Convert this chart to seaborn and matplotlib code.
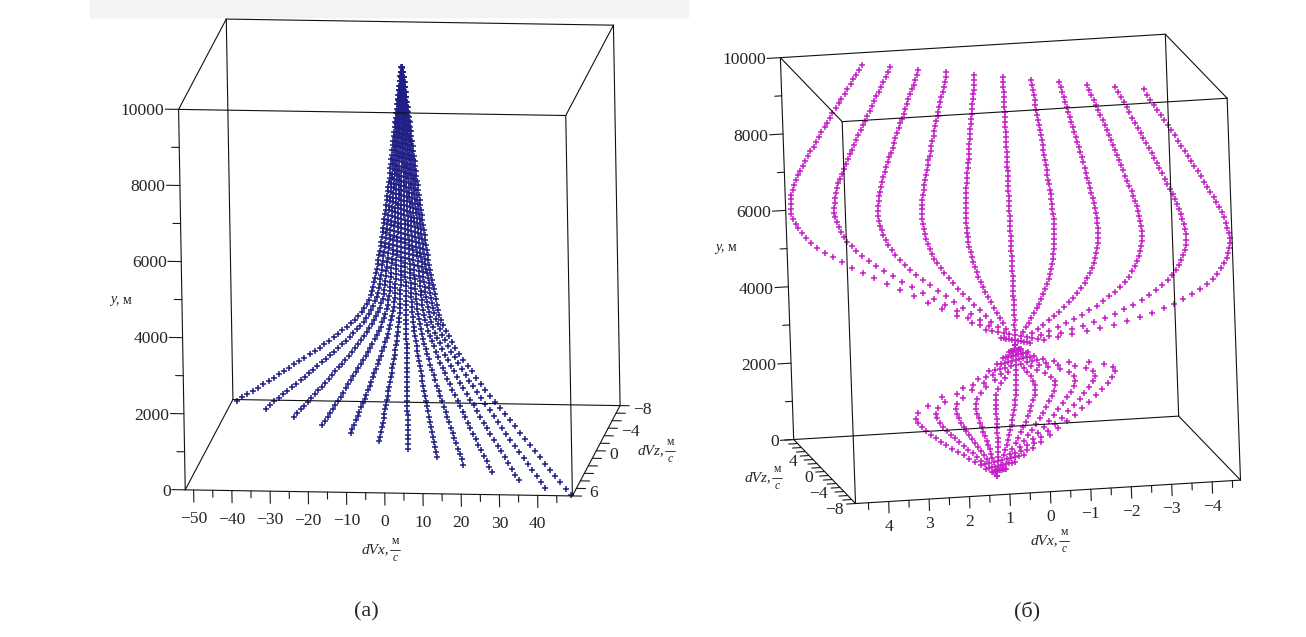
import numpy as np
import matplotlib
matplotlib.use("Agg")
import matplotlib.pyplot as plt
from matplotlib.lines import Line2D
from matplotlib.patches import Rectangle
from mpl_toolkits.mplot3d import proj3d
import seaborn as sns

sns.set_theme(style="white")
plt.rcParams["font.family"] = ["Liberation Serif", "DejaVu Serif"]

W, H = 1306, 637

# altitude levels, m (same for both panels)
alt = [0, 125, 250, 375, 500, 625, 750, 875, 1000,
       1125, 1250, 1375, 1500, 1625, 1750, 1875, 2000, 2125,
       2250, 2375, 2500, 2625, 2750, 2875, 3000, 3125, 3250,
       3375, 3500, 3625, 3750, 3875, 4000, 4125, 4250, 4375,
       4500, 4625, 4750, 4875, 5000, 5125, 5250, 5375, 5500,
       5625, 5750, 5875, 6000, 6125, 6250, 6375, 6500, 6625,
       6750, 6875, 7000, 7125, 7250, 7375, 7500, 7625, 7750,
       7875, 8000, 8125, 8250, 8375, 8500, 8625, 8750, 8875,
       9000, 9125, 9250, 9375, 9500, 9625, 9750, 9875, 10000]

# panel (a): ground values of each curve and the share left at each altitude
a_end_dvx = [-51.0, -42.5, -34.0, -25.5, -17.0, -8.5, 0.0, 8.5, 16.5, 25.0, 33.0, 41.0, 48.5]
a_end_dvz = [-7.8, -6.5, -5.1, -3.8, -2.4, -1.1, 0.2, 1.5, 2.8, 4.1, 5.4, 6.7, 7.8]
a_decay = [1.000, 0.969, 0.938, 0.906, 0.875, 0.844, 0.813, 0.781, 0.750,
           0.720, 0.690, 0.660, 0.630, 0.600, 0.570, 0.540, 0.510, 0.483,
           0.456, 0.428, 0.400, 0.375, 0.350, 0.325, 0.301, 0.280, 0.261,
           0.244, 0.229, 0.216, 0.205, 0.196, 0.189, 0.183, 0.178, 0.173,
           0.168, 0.163, 0.158, 0.153, 0.148, 0.143, 0.139, 0.134, 0.130,
           0.126, 0.122, 0.118, 0.114, 0.110, 0.106, 0.102, 0.098, 0.095,
           0.091, 0.088, 0.084, 0.081, 0.078, 0.074, 0.071, 0.068, 0.064,
           0.061, 0.058, 0.055, 0.051, 0.048, 0.045, 0.042, 0.038, 0.035,
           0.032, 0.029, 0.025, 0.022, 0.018, 0.015, 0.011, 0.007, 0.003]

# panel (b): centre curve and spread per unit of the curve parameter
b_p = [-5, -4, -3, -2, -1, 0, 1, 2, 3, 4, 5]
b_cx = [0.88, 0.83, 0.78, 0.73, 0.68, 0.64, 0.59, 0.55, 0.51,
        0.48, 0.44, 0.41, 0.38, 0.36, 0.33, 0.31, 0.29, 0.28,
        0.27, 0.26, 0.25, 0.24, 0.23, 0.23, 0.22, 0.22, 0.21,
        0.21, 0.20, 0.20, 0.20, 0.19, 0.19, 0.19, 0.18, 0.18,
        0.18, 0.17, 0.17, 0.17, 0.16, 0.16, 0.16, 0.15, 0.15,
        0.15, 0.15, 0.14, 0.14, 0.14, 0.14, 0.13, 0.13, 0.13,
        0.13, 0.12, 0.12, 0.12, 0.12, 0.11, 0.11, 0.11, 0.11,
        0.10, 0.10, 0.10, 0.10, 0.09, 0.09, 0.09, 0.09, 0.08,
        0.08, 0.08, 0.08, 0.08, 0.07, 0.07, 0.07, 0.07, 0.07]
b_cz = [-3.44, -3.39, -3.35, -3.30, -3.26, -3.21, -3.17, -3.12, -3.08,
        -3.03, -2.99, -2.94, -2.90, -2.85, -2.81, -2.76, -2.72, -2.67,
        -2.63, -2.58, -2.54, -2.49, -2.44, -2.40, -2.35, -2.31, -2.26,
        -2.22, -2.17, -2.13, -2.08, -2.04, -1.99, -1.95, -1.90, -1.86,
        -1.81, -1.77, -1.72, -1.68, -1.63, -1.58, -1.54, -1.49, -1.45,
        -1.40, -1.36, -1.31, -1.27, -1.22, -1.18, -1.13, -1.09, -1.04,
        -1.00, -0.95, -0.91, -0.86, -0.82, -0.77, -0.73, -0.68, -0.63,
        -0.59, -0.54, -0.50, -0.45, -0.41, -0.36, -0.32, -0.27, -0.23,
        -0.18, -0.14, -0.09, -0.05, 0.00, 0.04, 0.09, 0.13, 0.18]
b_gx = [0.000, 0.041, 0.082, 0.123, 0.165, 0.206, 0.247, 0.288, 0.329,
        0.370, 0.406, 0.441, 0.476, 0.506, 0.535, 0.559, 0.570, 0.559,
        0.506, 0.423, 0.306, 0.218, 0.153, 0.106, 0.071, 0.035, 0.000,
        -0.056, -0.112, -0.170, -0.228, -0.287, -0.345, -0.403, -0.461, -0.517,
        -0.571, -0.622, -0.670, -0.715, -0.757, -0.795, -0.828, -0.856, -0.880,
        -0.899, -0.916, -0.928, -0.938, -0.946, -0.949, -0.950, -0.948, -0.944,
        -0.938, -0.932, -0.923, -0.912, -0.901, -0.890, -0.877, -0.864, -0.851,
        -0.837, -0.824, -0.811, -0.798, -0.784, -0.771, -0.758, -0.745, -0.729,
        -0.716, -0.703, -0.687, -0.674, -0.658, -0.645, -0.630, -0.616, -0.603]
b_gz = [0.000, -0.060, -0.120, -0.180, -0.241, -0.301, -0.361, -0.421, -0.481,
        -0.541, -0.593, -0.644, -0.696, -0.739, -0.782, -0.816, -0.833, -0.816,
        -0.739, -0.618, -0.447, -0.318, -0.223, -0.155, -0.103, -0.052, 0.000,
        -0.161, -0.322, -0.460, -0.598, -0.735, -0.848, -0.961, -1.048, -1.135,
        -1.208, -1.266, -1.310, -1.352, -1.379, -1.396, -1.411, -1.422, -1.430,
        -1.435, -1.439, -1.439, -1.438, -1.436, -1.430, -1.423, -1.415, -1.405,
        -1.393, -1.382, -1.368, -1.354, -1.339, -1.325, -1.308, -1.292, -1.276,
        -1.260, -1.244, -1.228, -1.212, -1.196, -1.179, -1.163, -1.147, -1.129,
        -1.113, -1.097, -1.080, -1.063, -1.046, -1.030, -1.012, -0.996, -0.980]

BLUE = "#1f1f85"
PINK = "#c61ec6"
MK = dict(ls="none", marker="+", ms=5.0, mew=1.1)
TICK_FS = 12.6


def lab(v):
    s = f"{abs(v):g}"
    return "\u2212" + s if v < 0 else s


def to_px(ax, pts):
    pts = np.asarray(pts, float)
    x, y, _ = proj3d.proj_transform(pts[:, 0], pts[:, 1], pts[:, 2], ax.get_proj())
    return ax.transData.transform(np.column_stack([x, y]))


def fit_box(ax, corners, target, aspect):
    # scale and move the 3d axes so the box corners land where they are in the picture
    tgt = np.array(target, float)
    tgt[:, 1] = H - tgt[:, 1]
    fig.canvas.draw()
    p = to_px(ax, corners)
    k = np.sqrt(((tgt - tgt.mean(0)) ** 2).sum() / ((p - p.mean(0)) ** 2).sum())
    ax.set_box_aspect(aspect, zoom=k)
    fig.canvas.draw()
    p = to_px(ax, corners)
    d = tgt.mean(0) - p.mean(0)
    pos = ax.get_position()
    ax.set_position([pos.x0 + d[0] / W, pos.y0 + d[1] / H, pos.width, pos.height])
    fig.canvas.draw()


def put_labels(ax, items):
    # tick labels are written as flat figure text at the projected tick ends
    pts = to_px(ax, [it[0] for it in items])
    for (pt, s, ha, dx, dy), (x, y) in zip(items, pts):
        fig.text((x + dx) / W, (y + dy) / H, s, ha=ha, va="center_baseline", fontsize=TICK_FS)


def draw_box(ax, xl, yl, zl):
    kw = dict(color="#111111", lw=0.8)
    for x in xl:
        for y in yl:
            ax.plot([x, x], [y, y], zl, **kw)
        for z in zl:
            ax.plot([x, x], yl, [z, z], **kw)
    for y in yl:
        for z in zl:
            ax.plot(xl, [y, y], [z, z], **kw)


def frac_label(px, py, name, fs=11):
    fig.text(px / W, 1 - py / H, name + ",", ha="right", va="center", fontsize=fs, style="italic")
    fig.text((px + 6) / W, 1 - (py - 9) / H, "м", ha="center", va="center", fontsize=fs - 2.5)
    fig.add_artist(Line2D([(px + 1) / W, (px + 11) / W], [1 - py / H] * 2, lw=0.6, color="k"))
    fig.text((px + 6) / W, 1 - (py + 8) / H, "c", ha="center", va="center", fontsize=fs - 2.5, style="italic")


def y_label(px, py):
    fig.text(px / W, 1 - py / H, "y", ha="right", va="center", fontsize=10, style="italic")
    fig.text(px / W, 1 - py / H, ", м", ha="left", va="center", fontsize=10)


fig = plt.figure(figsize=(W / 100, H / 100), dpi=100)
fig.add_artist(Rectangle((90 / W, 1 - 17 / H), 598 / W, 17 / H, transform=fig.transFigure,
                         color="#f3f3f3", zorder=0))

# ---------------- panel (a) ----------------
XA, YA, ZA = (-52.2, 49.1), (-8.0, 8.0), (0, 10000)
asp_a = (391.1, 368.1, 393.1)
ax1 = fig.add_axes([0.0, 0.0, 0.5, 1.0], projection="3d", proj_type="ortho")
ax1.set_facecolor("none")
ax1.set_axis_off()
ax1.set_xlim(*XA)
ax1.set_ylim(*YA)
ax1.set_zlim(*ZA)
ax1.set_box_aspect(asp_a)
ax1.view_init(elev=-14.22, azim=-97.7, roll=1.0)

a_x = np.outer(a_end_dvx, a_decay)
a_z = np.outer(a_end_dvz, a_decay)
for k in range(len(a_end_dvx)):
    ax1.plot(a_x[k], a_z[k], alt, color=BLUE, **MK)

draw_box(ax1, XA, YA, ZA)
labels_a = []
for v in range(0, 10001, 1000):
    L = 3.5 if v % 2000 == 0 else 2.0
    ax1.plot([XA[0], XA[0] - L], [YA[1]] * 2, [v, v], color="k", lw=0.8)
    if v % 2000 == 0:
        labels_a.append(((XA[0] - L, YA[1], v), str(v), "right", -1, 0))
for v in range(-50, 46, 5):
    L = 320 if v % 10 == 0 else 185
    ax1.plot([v, v], [YA[1]] * 2, [0, -L], color="k", lw=0.8)
    if v % 10 == 0:
        labels_a.append(((v, YA[1], 0), lab(v), "center", 0, -27))
for i in range(13):
    v = -8 + 4 / 3 * i
    ax1.plot([XA[1], XA[1] + 2.4], [v, v], [0, 0], color="k", lw=0.8)
for v, s in [(-8, "\u22128"), (-4, "\u22124"), (0, "0"), (6.67, "6")]:
    labels_a.append(((XA[1] + 2.4, v, 0), s, "left", 4, -2))

corners_a = [(XA[0], YA[1], 0), (XA[1], YA[1], 0), (XA[0], YA[0], 0), (XA[1], YA[0], 0),
             (XA[0], YA[1], 1e4), (XA[1], YA[1], 1e4), (XA[0], YA[0], 1e4), (XA[1], YA[0], 1e4)]
target_a = [(185, 490), (572.7, 496), (233.3, 400), (620, 405),
            (178.2, 109), (566, 115), (226.5, 19), (613, 26)]
fit_box(ax1, corners_a, target_a, asp_a)
put_labels(ax1, labels_a)

# ---------------- panel (б) ----------------
XB, YB, ZB = (-4.70, 4.82), (-8.0, 8.0), (0, 10000)
asp_b = (391.1, 396.1, 388.8)
ax2 = fig.add_axes([0.5, 0.0, 0.5, 1.0], projection="3d", proj_type="ortho")
ax2.set_facecolor("none")
ax2.set_axis_off()
ax2.set_xlim(*XB)
ax2.set_ylim(*YB)
ax2.set_zlim(*ZB)
ax2.set_box_aspect(asp_b)
ax2.view_init(elev=-9.75, azim=98.67, roll=2.0)

cx, cz, gx, gz = map(np.array, (b_cx, b_cz, b_gx, b_gz))
for p in b_p:
    ax2.plot(cx + p * gx, cz + p * gz, alt, color=PINK, **MK)

draw_box(ax2, XB, YB, ZB)
labels_b = []
for v in range(0, 10001, 1000):
    L = 0.33 if v % 2000 == 0 else 0.17
    ax2.plot([XB[1], XB[1] + L], [YB[1]] * 2, [v, v], color="k", lw=0.8)
    if v % 2000 == 0:
        labels_b.append(((XB[1] + L, YB[1], v), str(v), "right", -1, 0))
for i in range(19):
    v = -4.5 + 0.5 * i
    L = 300 if i % 2 == 1 else 180
    ax2.plot([v, v], [YB[0]] * 2, [0, -L], color="k", lw=0.8)
    if i % 2 == 1:
        labels_b.append(((v, YB[0], 0), lab(v), "center", 0, -23))
for v in range(-8, 9):
    ax2.plot([XB[1], XB[1] + 0.22], [v, v], [0, 0], color="k", lw=0.8)
for v in (4, 0, -4, -8):
    labels_b.append(((XB[1] + 0.22, v, 0), lab(v), "right", -3, -4))

corners_b = [(XB[1], YB[0], 0), (XB[0], YB[0], 0), (XB[1], YB[1], 0), (XB[0], YB[1], 0),
             (XB[1], YB[0], 1e4), (XB[0], YB[0], 1e4), (XB[1], YB[1], 1e4), (XB[0], YB[1], 1e4)]
target_b = [(855, 504), (1241, 480.7), (795, 440), (1177, 416.4),
            (842, 121.8), (1227.8, 97.7), (781.8, 57), (1163.8, 33.4)]
fit_box(ax2, corners_b, target_b, asp_b)
put_labels(ax2, labels_b)

# axis titles and captions
y_label(116, 300)
frac_label(389, 550, "dVx")
frac_label(664, 451, "dVz")
y_label(721, 247)
frac_label(1058, 541, "dVx")
frac_label(771, 478, "dVz")
fig.text(366 / W, 1 - 612 / H, "(а)", ha="center", va="center", fontsize=16)
fig.text(1027 / W, 1 - 612 / H, "(б)", ha="center", va="center", fontsize=16)

fig.savefig("out.png", dpi=100)
